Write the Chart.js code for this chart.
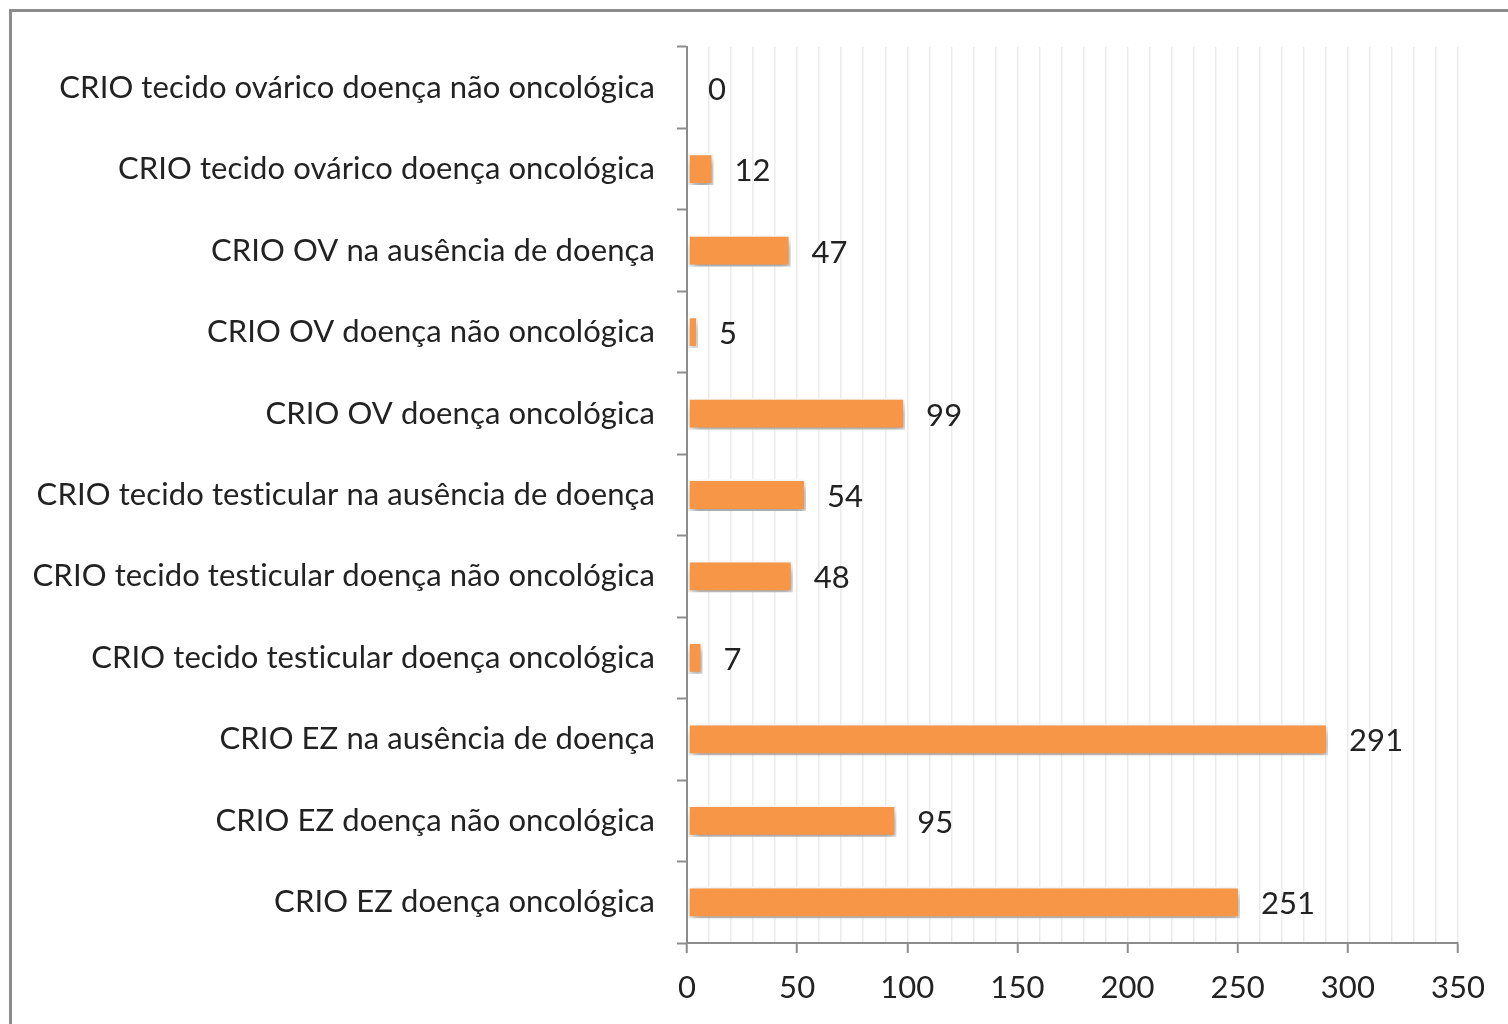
<!DOCTYPE html>
<html>
<head>
<meta charset="utf-8">
<script src="https://cdn.jsdelivr.net/npm/chart.js@4"></script>
<style>
html,body{margin:0;padding:0;background:#fff;overflow:hidden;}
#wrap{position:relative;width:1508px;height:1024px;}
</style>
</head>
<body>
<div id="wrap"><canvas id="c" width="1508" height="1024"></canvas></div>
<script>
const categories = [
  "CRIO tecido ovárico doença não oncológica",
  "CRIO tecido ovárico doença oncológica",
  "CRIO OV na ausência de doença",
  "CRIO OV doença não oncológica",
  "CRIO OV doença oncológica",
  "CRIO tecido testicular na ausência de doença",
  "CRIO tecido testicular doença não oncológica",
  "CRIO tecido testicular doença oncológica",
  "CRIO EZ na ausência de doença",
  "CRIO EZ doença não oncológica",
  "CRIO EZ doença oncológica"
];
const values = [0, 12, 47, 5, 99, 54, 48, 7, 291, 95, 251];
const xMin = 0, xMax = 350, xMajorStep = 50, xMinorStep = 10;

const FONT = "Lato, 'Open Sans', sans-serif";
const FSIZE = 31;
const TEXT = '#222222';

const framePlugin = {
  id: 'frame',
  beforeDraw(chart) {
    const ctx = chart.ctx;
    try { ctx.letterSpacing = '0.1px'; } catch (e) {}
    ctx.save();
    ctx.fillStyle = '#8c8c8c';
    ctx.fillRect(9, 9, 1508, 3);
    ctx.fillRect(9, 9, 3, 1024);
    ctx.restore();
  }
};

const shadowPlugin = {
  id: 'barShadow',
  beforeDatasetsDraw(chart) {
    const ctx = chart.ctx;
    ctx.save();
    ctx.shadowColor = 'rgba(0,0,0,0.4)';
    ctx.shadowBlur = 9;
    ctx.shadowOffsetX = 2;
    ctx.shadowOffsetY = 5;
  },
  afterDatasetsDraw(chart) {
    chart.ctx.restore();
    const ctx = chart.ctx;
    const meta = chart.getDatasetMeta(0);
    ctx.save();
    ctx.font = FSIZE + "px " + FONT;
    ctx.fillStyle = TEXT;
    ctx.textAlign = 'left';
    ctx.textBaseline = 'middle';
    meta.data.forEach((bar, i) => {
      ctx.fillText(String(values[i]), bar.x + 21, bar.y + 2);
    });
    ctx.restore();
  }
};

new Chart(document.getElementById('c'), {
  type: 'bar',
  data: {
    labels: categories,
    datasets: [{
      data: values,
      backgroundColor: '#F79646',
      borderColor: '#ffffff',
      borderWidth: 2,
      borderSkipped: false,
      barPercentage: 0.39,
      categoryPercentage: 1
    }]
  },
  options: {
    indexAxis: 'y',
    responsive: false,
    animation: false,
    devicePixelRatio: 1,
    layout: { padding: { left: 0, top: 47, right: 50, bottom: 0 } },
    plugins: { legend: { display: false }, tooltip: { enabled: false } },
    scales: {
      x: {
        min: xMin, max: xMax,
        afterFit(scale) { scale.height = 81; },
        ticks: {
          stepSize: xMinorStep,
          autoSkip: false,
          maxRotation: 0,
          padding: 16,
          color: TEXT,
          font: { family: FONT, size: FSIZE },
          callback: (v) => (v % xMajorStep === 0 ? String(v) : '')
        },
        grid: {
          color: (c) => (c.tick && c.tick.value === 0 ? 'rgba(0,0,0,0)' : '#ebebeb'),
          lineWidth: 1.5,
          tickLength: 10,
          tickColor: (c) => (c.tick && c.tick.value % xMajorStep === 0 ? '#8c8c8c' : 'rgba(0,0,0,0)'),
          tickWidth: 2
        },
        border: { color: '#8c8c8c', width: 2 }
      },
      y: {
        afterFit(scale) { scale.width = 687; },
        ticks: {
          padding: 22,
          color: TEXT,
          font: { family: FONT, size: FSIZE }
        },
        grid: {
          drawOnChartArea: false,
          tickLength: 10,
          tickColor: '#8c8c8c',
          tickWidth: 2
        },
        border: { color: '#8c8c8c', width: 2 }
      }
    }
  },
  plugins: [framePlugin, shadowPlugin]
});
</script>
</body>
</html>
